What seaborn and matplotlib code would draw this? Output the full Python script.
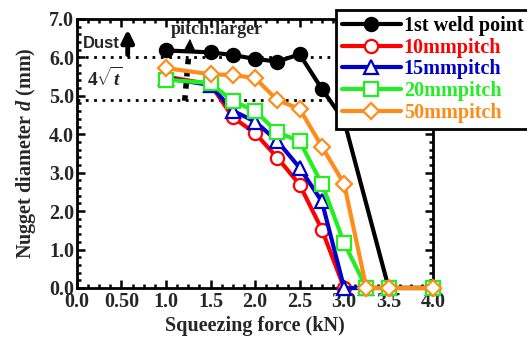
import numpy as np
import pandas as pd
import matplotlib
matplotlib.use('Agg')
import matplotlib.pyplot as plt
from matplotlib.ticker import MultipleLocator, FixedLocator, FixedFormatter
import seaborn as sns

# данные
force = [1.0, 1.5, 1.75, 2.0, 2.25, 2.5, 2.75, 3.0, 3.25, 3.5, 4.0]
weld1 = [6.18, 6.13, 6.06, 5.96, 5.89, 6.08, 5.18, 4.35, None, 0.0, 0.0]
pitch10 = [5.50, 5.30, 4.44, 4.03, 3.39, 2.69, 1.52, 0.0, 0.0, 0.0, 0.0]
pitch15 = [5.46, 5.28, 4.61, 4.33, 3.82, 3.13, 2.25, 0.0, 0.0, 0.0, 0.0]
pitch20 = [5.42, 5.33, 4.86, 4.61, 4.05, 3.82, 2.71, 1.17, 0.0, 0.0, 0.0]
pitch50 = [5.72, 5.56, 5.54, 5.46, 4.89, 4.66, 3.68, 2.71, 0.0, 0.0, 0.0]

series_names = ['1st weld point', '10mmpitch', '15mmpitch', '20mmpitch', '50mmpitch']
series_values = [weld1, pitch10, pitch15, pitch20, pitch50]
colors = ['#000000', '#ff0000', '#0000cc', '#22ee22', '#ff8c1a']
markers = ['o', 'o', '^', 's', 'D']

x_ticks = [0.0, 0.5, 1.0, 1.5, 2.0, 2.5, 3.0, 3.5, 4.0]
x_tick_labels = ['0.0', '0.50', '1.0', '1.5', '2.0', '2.5', '3.0', '3.5', '4.0']
y_ticks = [0, 1, 2, 3, 4, 5, 6, 7]
y_tick_labels = ['0.0', '1.0', '2.0', '3.0', '4.0', '5.0', '6.0', '7.0']

dust_level = 6.0
sqrt_t_level = 4.9

sns.set_theme(style='ticks')
plt.rcParams['font.family'] = ['Liberation Serif', 'DejaVu Serif']
plt.rcParams['font.weight'] = 'bold'
plt.rcParams['mathtext.fontset'] = 'custom'
plt.rcParams['mathtext.rm'] = 'Liberation Serif'
plt.rcParams['mathtext.it'] = 'Liberation Serif:italic:bold'

fig = plt.figure(figsize=(5.27, 3.38), dpi=100)
ax = fig.add_axes([0.146, 0.148, 0.676, 0.796])

rows = []
for name, vals in zip(series_names, series_values):
    for x, y in zip(force, vals):
        if y is not None:
            rows.append({'force': x, 'd': y, 'series': name})
data = pd.DataFrame(rows)

# горизонтальные пунктиры
ax.axhline(dust_level, color='black', ls=(0, (1, 2)), lw=2, zorder=1)
ax.axhline(sqrt_t_level, color='black', ls=(0, (1, 2)), lw=2, zorder=1)

for i, (name, col, mk) in enumerate(zip(series_names, colors, markers)):
    face = col if i == 0 else 'white'
    ms = 9.5 if mk != 'D' else 8
    sns.lineplot(data=data[data['series'] == name], x='force', y='d', ax=ax,
                 color=col, lw=3, marker=mk, markersize=ms,
                 markerfacecolor=face, markeredgecolor=col, markeredgewidth=1.6,
                 label=name, zorder=3 + i, clip_on=False)

ax.set_xlim(0, 4.0)
ax.set_ylim(0, 7.0)
ax.xaxis.set_major_locator(FixedLocator(x_ticks))
ax.xaxis.set_major_formatter(FixedFormatter(x_tick_labels))
ax.yaxis.set_major_locator(FixedLocator(y_ticks))
ax.yaxis.set_major_formatter(FixedFormatter(y_tick_labels))
ax.xaxis.set_minor_locator(MultipleLocator(0.125))
ax.yaxis.set_minor_locator(MultipleLocator(0.2))
ax.tick_params(which='both', direction='in', top=True, right=True, width=1.8, color='black')
ax.tick_params(which='major', length=6, labelsize=14.5)
ax.tick_params(axis='x', which='major', pad=3)
ax.tick_params(axis='y', which='major', pad=2)
ax.tick_params(which='minor', length=3)
for lab in ax.get_xticklabels() + ax.get_yticklabels():
    lab.set_fontweight('bold')
for sp in ax.spines.values():
    sp.set_linewidth(2)
    sp.set_color('black')

ax.set_xlabel('Squeezing force (kN)', fontsize=14.5, fontweight='bold', labelpad=3)
ax.set_ylabel('Nugget diameter $d$ (mm)', fontsize=14.5, fontweight='bold', labelpad=8)

# подписи и стрелки
ax.text(0.07, 6.35, 'Dust', fontsize=12, fontweight='bold', family=['Liberation Sans'],
        va='center', ha='left')
ax.annotate('', xy=(0.57, 6.8), xytext=(0.57, 6.0),
            arrowprops=dict(arrowstyle='-|>', color='black', lw=3.5, mutation_scale=18))
ax.text(0.11, 5.45, r'$4\sqrt{t}$', fontsize=14, va='center', ha='left')
ax.text(1.05, 6.72, 'pitch:larger', fontsize=13, fontweight='bold', va='center', ha='left')
ax.plot([1.21, 1.26], [4.87, 6.2], color='black', ls=(0, (1, 1.2)), lw=4, zorder=2)
ax.annotate('', xy=(1.27, 6.55), xytext=(1.265, 6.2),
            arrowprops=dict(arrowstyle='-|>', color='black', lw=0.5, mutation_scale=18))

leg = ax.legend(loc='upper left', bbox_to_anchor=(0.638, 0.97), bbox_transform=fig.transFigure,
                borderaxespad=0, frameon=True, fancybox=False, edgecolor='black',
                handlelength=2.9, handletextpad=0.15, labelspacing=0.08,
                borderpad=0.3, prop={'weight': 'bold', 'size': 14.5})
leg.get_frame().set_linewidth(2)
leg.get_frame().set_alpha(1)
for txt, col in zip(leg.get_texts(), colors):
    txt.set_color(col)

fig.savefig('out.png', dpi=100)
